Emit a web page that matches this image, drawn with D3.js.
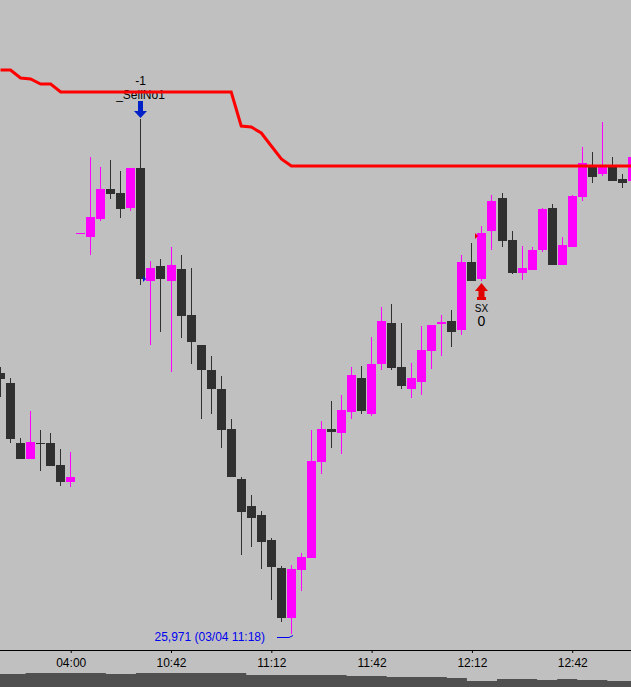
<!DOCTYPE html>
<html>
<head>
<meta charset="utf-8">
<script src="https://cdn.jsdelivr.net/npm/d3@7"></script>
<style>
  html, body { margin: 0; padding: 0; background: #c0c0c0; overflow: hidden; }
  svg { display: block; }
  text { font-family: "Liberation Sans", Arial, sans-serif; }
</style>
</head>
<body>
<div id="root"></div>
<script>
const WIDTH = 631;
const HEIGHT = 687;

// 3-minute bars, night session tail then day session (03/04)
const opens  = [26232, 26222, 26162, 26146, 26162, 26162, 26140, 26123,
                26372, 26368, 26386, 26416, 26412, 26397, 26437, 26324,
                26339, 26324, 26336, 26290, 26260, 26235, 26216, 26176,
                26126, 26099, 26090, 26065, 26037, 25987, 26035, 26047,
                26143, 26176, 26172, 26193, 26227, 26191, 26241, 26282,
                26238, 26216, 26223, 26254, 26281, 26284, 26275, 26343,
                26326, 26374, 26407, 26365, 26332, 26335, 26355, 26397,
                26340, 26358, 26408, 26439, 26431, 26439, 26426, 26424];
const highs  = [26238, 26227, 26167, 26194, 26175, 26172, 26156, 26153,
                26372, 26448, 26438, 26445, 26434, 26437, 26486, 26344,
                26346, 26358, 26350, 26337, 26260, 26249, 26229, 26186,
                26128, 26110, 26094, 26067, 26039, 26040, 26052, 26175,
                26184, 26204, 26210, 26238, 26239, 26268, 26298, 26301,
                26282, 26242, 26279, 26280, 26290, 26295, 26350, 26362,
                26379, 26410, 26412, 26374, 26359, 26358, 26397, 26401,
                26368, 26410, 26458, 26453, 26483, 26448, 26431, 26448];
const lows   = [26208, 26162, 26146, 26146, 26134, 26139, 26119, 26118,
                26371, 26350, 26384, 26406, 26387, 26394, 26320, 26260,
                26273, 26233, 26267, 26241, 26186, 26191, 26157, 26128,
                26050, 26058, 26036, 26005, 25983, 25971, 26014, 26047,
                26131, 26157, 26151, 26186, 26191, 26189, 26235, 26235,
                26216, 26207, 26210, 26236, 26249, 26258, 26270, 26324,
                26324, 26355, 26358, 26331, 26325, 26335, 26353, 26340,
                26340, 26358, 26404, 26422, 26429, 26424, 26417, 26424];
const closes = [26226, 26166, 26146, 26163, 26161, 26139, 26123, 26128,
                26372, 26388, 26416, 26411, 26396, 26437, 26326, 26337,
                26326, 26340, 26289, 26263, 26235, 26216, 26175, 26128,
                26093, 26087, 26063, 26038, 25987, 26036, 26048, 26144,
                26176, 26173, 26195, 26230, 26194, 26241, 26284, 26237,
                26219, 26227, 26255, 26280, 26283, 26273, 26343, 26324,
                26372, 26404, 26364, 26332, 26337, 26355, 26396, 26340,
                26360, 26409, 26442, 26428, 26440, 26424, 26422, 26448];

// trailing stop line
const stopLine = [26535, 26535, 26527, 26526, 26521, 26521, 26513, 26513,
                  26513, 26513, 26513, 26513, 26513, 26513, 26513, 26513,
                  26513, 26513, 26513, 26513, 26513, 26513, 26513, 26513,
                  26479, 26478, 26472, 26459, 26446, 26439, 26439, 26439,
                  26439, 26439, 26439, 26439, 26439, 26439, 26439, 26439,
                  26439, 26439, 26439, 26439, 26439, 26439, 26439, 26439,
                  26439, 26439, 26439, 26439, 26439, 26439, 26439, 26439,
                  26439, 26439, 26439, 26439, 26439, 26439, 26439, 26439];

// top of the lower pane (cut off)
const lowerPane = [13, 13, 13, 14, 14, 14, 14, 14, 14, 14, 14, 13, 13, 13, 14, 14,
                   14, 14, 14, 14, 14, 14, 14, 14, 14, 12, 12, 12, 12, 12, 12, 12,
                   12, 12, 12, 11, 11, 11, 11, 10, 10, 10, 10, 10, 10, 9, 9, 6,
                   6, 6, 8, 8, 8, 8, 7, 7, 8, 8, 7, 7, 7, 6, 6, 6];

const tickIndex = [7, 17, 27, 37, 47, 57];
const tickLabels = ['04:00', '10:42', '11:12', '11:42', '12:12', '12:42'];

const sellBar = 14, sellEntry = 15, sellEntryPrice = 26326;
const exitBar = 48, exitEntryPrice = 26369;
const lowBar = 29;
const lowLabel = '25,971 (03/04 11:18)';

const UP = '#ff00ff';
const DOWN = '#303030';

const x = d3.scaleLinear().domain([0, 63]).range([0.5, 632.4]);
const y = d3.scaleLinear().domain([25971, 26605]).range([634, 0]);
const paneY = d3.scaleLinear().domain([0, 14]).range([HEIGHT, HEIGHT - 14]);

const svg = d3.select('#root').append('svg')
    .attr('width', WIDTH)
    .attr('height', HEIGHT);

svg.append('rect')
    .attr('width', WIDTH)
    .attr('height', HEIGHT)
    .attr('fill', '#c0c0c0');

// lower pane
const paneArea = d3.area()
    .curve(d3.curveStepAfter)
    .x(d => x(d.i) - 5)
    .y0(HEIGHT)
    .y1(d => paneY(d.v));
const paneData = lowerPane.map((v, i) => ({i, v}));
paneData.push({i: lowerPane.length, v: lowerPane[lowerPane.length - 1]});
svg.append('path')
    .attr('d', paneArea(paneData))
    .attr('fill', '#505050');

// x axis
const xAxis = d3.axisBottom(x)
    .tickValues(tickIndex)
    .tickFormat((d, i) => tickLabels[i])
    .tickSize(3)
    .tickSizeOuter(0)
    .tickPadding(5);

const axis = svg.append('g')
    .attr('transform', 'translate(0, 650)')
    .call(xAxis);
axis.select('.domain').attr('d', `M0,0.5H${WIDTH}`);
axis.selectAll('text')
    .attr('font-family', '"Liberation Sans", Arial, sans-serif')
    .attr('font-size', 12)
    .attr('fill', '#000');

// candles
const bars = d3.range(opens.length).map(i => ({
    i, o: opens[i], h: highs[i], l: lows[i], c: closes[i]
}));
const bodyX = i => Math.round(x(i) - 4.5);

const candle = svg.append('g')
    .attr('shape-rendering', 'crispEdges')
  .selectAll('g')
    .data(bars)
  .enter().append('g')
    .attr('fill', d => d.c >= d.o ? UP : DOWN)
    .attr('stroke', d => d.c >= d.o ? UP : DOWN);

candle.append('line')
    .attr('x1', d => bodyX(d.i) + 4.5)
    .attr('x2', d => bodyX(d.i) + 4.5)
    .attr('y1', d => y(d.h))
    .attr('y2', d => y(d.l));

candle.append('rect')
    .attr('stroke', 'none')
    .attr('x', d => bodyX(d.i))
    .attr('width', 9)
    .attr('y', d => y(Math.max(d.o, d.c)))
    .attr('height', d => Math.max(1, y(Math.min(d.o, d.c)) - y(Math.max(d.o, d.c))));

// entry markers
const tri = (px, py, col) => svg.append('path')
    .attr('d', `M${px - 3},${py - 3}L${px},${py}L${px - 3},${py + 3}Z`)
    .attr('fill', col);
tri(bodyX(sellEntry), y(sellEntryPrice), '#0020c8');
tri(bodyX(exitBar) + 1, y(exitEntryPrice), '#e00000');

// sell signal
const sx = bodyX(sellBar) + 4.5;
const sTip = y(highs[sellBar]) - 1;
svg.append('path')
    .attr('d', `M${sx - 2.5},${sTip - 17}H${sx + 2.5}V${sTip - 7}H${sx + 6.5}L${sx},${sTip}L${sx - 6.5},${sTip - 7}H${sx - 2.5}Z`)
    .attr('fill', '#0020c8');
svg.append('text')
    .attr('x', sx)
    .attr('y', sTip - 33)
    .attr('text-anchor', 'middle')
    .attr('font-size', 12)
    .text('-1');
svg.append('text')
    .attr('x', sx)
    .attr('y', sTip - 19)
    .attr('text-anchor', 'middle')
    .attr('font-size', 12)
    .text('_SellNo1');

// exit signal
const ex = bodyX(exitBar) + 4.5;
const eTip = y(lows[exitBar]) + 2;
svg.append('path')
    .attr('d', `M${ex},${eTip}L${ex + 6.5},${eTip + 8}H${ex + 3}V${eTip + 14}H${ex + 4.5}V${eTip + 17}H${ex - 4.5}V${eTip + 14}H${ex - 3}V${eTip + 8}H${ex - 6.5}Z`)
    .attr('fill', '#e00000');
svg.append('text')
    .attr('x', ex)
    .attr('y', eTip + 29)
    .attr('text-anchor', 'middle')
    .attr('font-size', 10)
    .text('SX');
svg.append('text')
    .attr('x', ex)
    .attr('y', eTip + 43)
    .attr('text-anchor', 'middle')
    .attr('font-size', 14)
    .text('0');

// lowest low label
const lx = bodyX(lowBar);
const ly = Math.round(y(lows[lowBar])) + 3;
svg.append('path')
    .attr('d', `M${lx - 10},${ly + 0.5}H${lx + 2}L${lx + 6},${ly - 1.5}`)
    .attr('fill', 'none')
    .attr('stroke', '#0000f0');
svg.append('text')
    .attr('x', lx - 22)
    .attr('y', ly + 4)
    .attr('text-anchor', 'end')
    .attr('font-size', 12)
    .attr('fill', '#0000f0')
    .text(lowLabel);

// stop line on top
const line = d3.line()
    .x((d, i) => x(i))
    .y(d => y(d));
svg.append('path')
    .attr('d', line(stopLine))
    .attr('fill', 'none')
    .attr('stroke', '#ff0000')
    .attr('stroke-width', 3);
</script>
</body>
</html>
